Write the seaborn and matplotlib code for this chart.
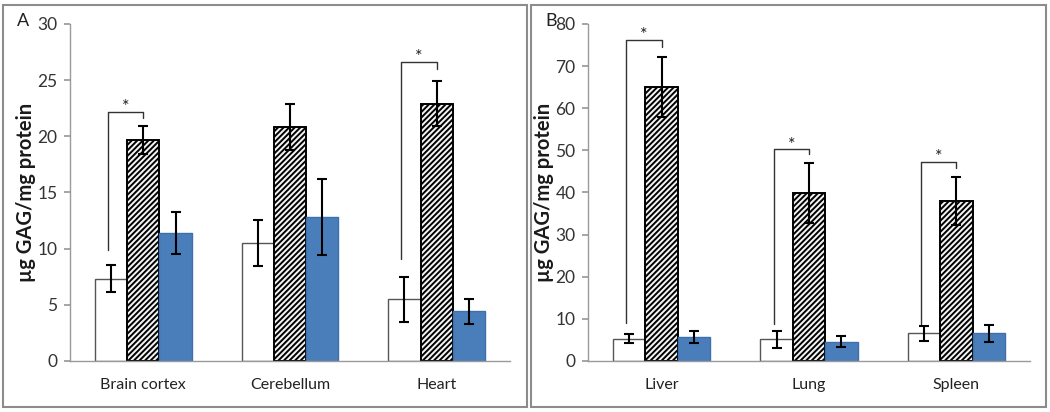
import numpy as np
import pandas as pd
import matplotlib
matplotlib.use("Agg")
import matplotlib.pyplot as plt
import seaborn as sns
from matplotlib.patches import Rectangle

# ---- data ----
groups = ["Control", "Untreated", "Treated"]

tissues_a = ["Brain cortex", "Cerebellum", "Heart"]
mean_a = {
    "Control":   [7.3, 10.5, 5.5],
    "Untreated": [19.7, 20.8, 22.9],
    "Treated":   [11.4, 12.8, 4.4],
}
err_a = {
    "Control":   [1.2, 2.05, 2.0],
    "Untreated": [1.25, 2.05, 2.0],
    "Treated":   [1.9, 3.4, 1.15],
}
# (tissue index, bracket top, left leg bottom, right leg bottom)
sig_a = [(0, 22.2, 9.9, 21.6), (2, 26.6, 9.1, 26.0)]

tissues_b = ["Liver", "Lung", "Spleen"]
mean_b = {
    "Control":   [5.3, 5.1, 6.6],
    "Untreated": [65.0, 39.9, 38.0],
    "Treated":   [5.7, 4.6, 6.6],
}
err_b = {
    "Control":   [1.0, 2.0, 1.8],
    "Untreated": [7.2, 7.1, 5.7],
    "Treated":   [1.5, 1.2, 2.0],
}
sig_b = [(0, 76.2, 9.1, 74.6), (1, 50.2, 8.7, 49.0), (2, 47.2, 8.7, 45.8)]

sns.set_theme(style="white")
plt.rcParams["font.family"] = ["Lato", "DejaVu Sans"]
plt.rcParams["hatch.linewidth"] = 1.4

fig = plt.figure(figsize=(10.5, 4.12), dpi=100)
ax_a = fig.add_axes([0.0667, 0.124, 0.419, 0.818])
ax_b = fig.add_axes([0.560, 0.124, 0.421, 0.818])

palette = ["white", "#f4f4f4", "#4a7ebb"]
edges = ["#555555", "black", "#3f70aa"]


def draw_panel(ax, tissues, means, errs, sigs, ymax, ystep, letter, letter_x):
    rows = []
    for g in groups:
        for t, v in zip(tissues, means[g]):
            rows.append({"tissue": t, "group": g, "value": v})
    df = pd.DataFrame(rows)
    sns.barplot(data=df, x="tissue", y="value", hue="group", order=tissues,
                hue_order=groups, palette=palette, width=0.66, errorbar=None,
                legend=False, saturation=1, ax=ax)

    for i, g in enumerate(groups):
        cont = ax.containers[i]
        xs = []
        for p in cont:
            p.set_edgecolor(edges[i])
            p.set_linewidth(1.4 if i == 1 else 1.0)
            if i == 1:
                p.set_hatch("//////")
            xs.append(p.get_x() + p.get_width() / 2)
        ax.errorbar(xs, means[g], yerr=errs[g], fmt="none", ecolor="black",
                    elinewidth=1.5, capsize=3.5, capthick=1.5, zorder=5)

    for k, top, lb, rb in sigs:
        p0 = ax.containers[0][k]
        p1 = ax.containers[1][k]
        x0 = p0.get_x() + p0.get_width() / 2 - 0.02
        x1 = p1.get_x() + p1.get_width() / 2
        ax.plot([x0, x0, x1, x1], [lb, top, top, rb], color="#333333", lw=1.0)
        ax.text((x0 + x1) / 2, top - ymax * 0.01, "*", ha="center", va="bottom",
                fontsize=13, color="#222222")

    ax.set_xlim(-0.5, 2.5)
    ax.set_ylim(0, ymax)
    ax.set_yticks(np.arange(0, ymax + 0.1, ystep))
    ax.set_xlabel("")
    ax.set_ylabel("µg GAG/mg protein", fontsize=14.5, fontweight="bold",
                  color="#1a1a1a", labelpad=1)
    for s in ["top", "right"]:
        ax.spines[s].set_visible(False)
    for s in ["left", "bottom"]:
        ax.spines[s].set_color("#9a9a9a")
        ax.spines[s].set_linewidth(1.0)
    ax.tick_params(axis="y", left=True, length=4, color="#9a9a9a",
                   labelsize=12.5, labelcolor="#333333", pad=5)
    ax.tick_params(axis="x", length=0, labelsize=11.5, labelcolor="#222222", pad=12)
    fig.text(letter_x, 0.948, letter, fontsize=13, color="#222222",
             ha="left", va="center")


draw_panel(ax_a, tissues_a, mean_a, err_a, sig_a, 30, 5, "A", 0.016)
draw_panel(ax_b, tissues_b, mean_b, err_b, sig_b, 80, 10, "B", 0.519)

# panel frames
fig.patches.append(Rectangle((3 / 1050, 5 / 412), 524 / 1050, 402 / 412,
                             transform=fig.transFigure, fill=False,
                             edgecolor="#8c8c8c", lw=1.5))
fig.patches.append(Rectangle((531 / 1050, 5 / 412), 515 / 1050, 402 / 412,
                             transform=fig.transFigure, fill=False,
                             edgecolor="#8c8c8c", lw=1.5))

fig.savefig("out.png", dpi=100, facecolor="white")
